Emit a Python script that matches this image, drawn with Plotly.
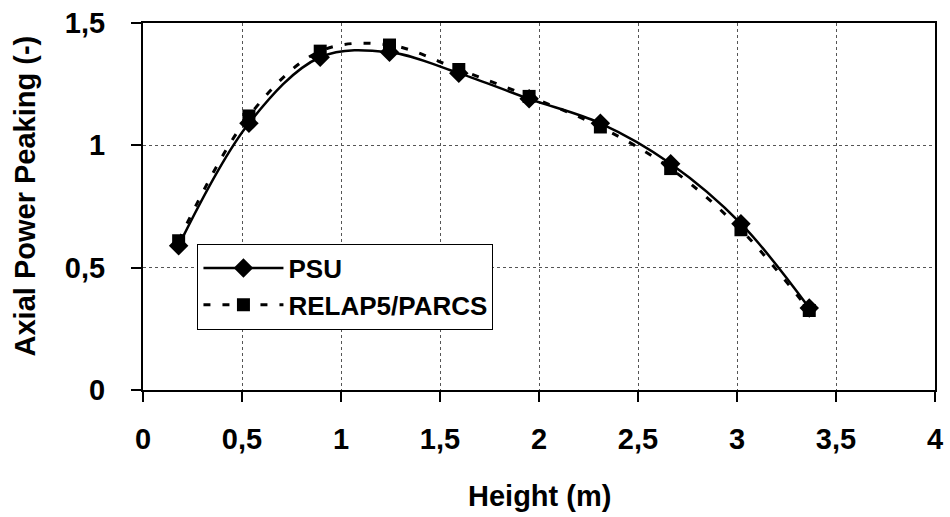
import plotly.graph_objects as go

height_m = [0.18, 0.535, 0.895, 1.245, 1.595, 1.95, 2.31, 2.665, 3.02, 3.365]
psu = [0.59, 1.09, 1.36, 1.38, 1.295, 1.19, 1.09, 0.925, 0.68, 0.335]
relap = [0.61, 1.12, 1.385, 1.41, 1.31, 1.20, 1.075, 0.905, 0.655, 0.325]

x_ticks = [0, 0.5, 1, 1.5, 2, 2.5, 3, 3.5, 4]
x_tick_labels = ["0", "0,5", "1", "1,5", "2", "2,5", "3", "3,5", "4"]
y_ticks = [0, 0.5, 1, 1.5]
y_tick_labels = ["0", "0,5", "1", "1,5"]

FONT = "Liberation Sans, Arial, sans-serif"

fig = go.Figure()
fig.add_trace(go.Scatter(
    x=height_m, y=psu, name="PSU", mode="lines+markers",
    line=dict(color="black", width=2.5, shape="spline", smoothing=1),
    marker=dict(symbol="diamond", size=15, color="black"),
))
fig.add_trace(go.Scatter(
    x=height_m, y=relap, name="RELAP5/PARCS", mode="lines+markers",
    line=dict(color="black", width=3, dash="7px,12px", shape="spline", smoothing=1),
    marker=dict(symbol="square", size=13, color="black"),
))

fig.update_layout(
    width=950, height=517,
    margin=dict(l=143, r=7, t=22, b=127),
    paper_bgcolor="white", plot_bgcolor="white",
    font=dict(family=FONT, color="black"),
    showlegend=True,
    legend=dict(
        x=0.06875, y=0.399, xanchor="left", yanchor="top",
        bordercolor="black", borderwidth=1, bgcolor="white",
        font=dict(family=FONT, size=26, weight="bold", color="black"),
        itemwidth=80, tracegroupgap=0,
    ),
    xaxis=dict(
        range=[0, 4], tickvals=x_ticks, ticktext=x_tick_labels,
        showline=True, linecolor="black", linewidth=2, mirror=True,
        ticks="outside", ticklen=10, tickwidth=1.5, tickcolor="black",
        showgrid=True, gridcolor="#555555", gridwidth=1, griddash="dot",
        zeroline=False,
        tickfont=dict(family=FONT, size=29, weight="bold", color="black"),
        ticklabelstandoff=12,
    ),
    yaxis=dict(
        range=[0, 1.5], tickvals=y_ticks, ticktext=y_tick_labels,
        showline=True, linecolor="black", linewidth=2, mirror=True,
        ticks="outside", ticklen=10, tickwidth=1.5, tickcolor="black",
        showgrid=True, gridcolor="#555555", gridwidth=1, griddash="dot",
        zeroline=False,
        tickfont=dict(family=FONT, size=29, weight="bold", color="black"),
        ticklabelstandoff=20,
    ),
    annotations=[
        dict(text="Height (m)", xref="paper", yref="paper", x=0.5, y=-0.288,
             xanchor="center", yanchor="middle", showarrow=False,
             font=dict(family=FONT, size=29, weight="bold", color="black")),
        dict(text="Axial Power Peaking (-)", xref="paper", yref="paper",
             x=-0.149, y=0.53, xanchor="center", yanchor="middle", textangle=-90,
             showarrow=False,
             font=dict(family=FONT, size=29, weight="bold", color="black")),
    ],
)

fig.write_html(
    "out.html",
    config={"displayModeBar": False},
    post_script="document.body.style.margin='0px';document.body.style.overflow='hidden';",
)
